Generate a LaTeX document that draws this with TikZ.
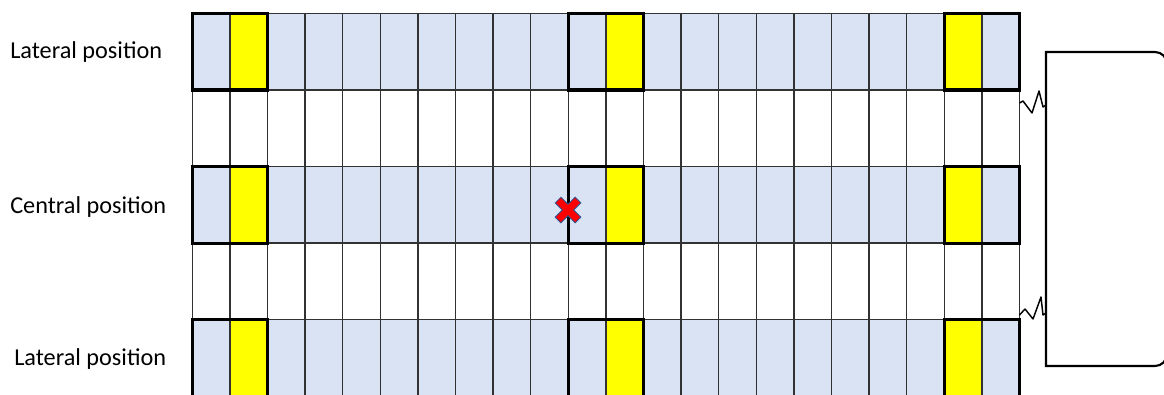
\documentclass[tikz,border=0pt]{standalone}
\usepackage{fontspec}
\setmainfont{Carlito}
\definecolor{cellblue}{RGB}{218,227,243}
\definecolor{cellyellow}{RGB}{255,255,0}
\definecolor{gridgray}{RGB}{50,50,50}
\definecolor{xblue}{RGB}{47,85,151}
\definecolor{xred}{RGB}{255,0,0}
\begin{document}
\begin{tikzpicture}[x=0.75pt,y=-0.75pt,
  gridline/.style={draw=gridgray,line width=1.05pt},
  thickbox/.style={draw=black,line width=2.4pt},
  label/.style={anchor=west,inner sep=0pt,font=\fontsize{18.2pt}{21pt}\selectfont},
  spring/.style={draw=black,line width=1.1pt,line join=round},
  holder/.style={draw=black,line width=1.6pt}]
\useasboundingbox (0,0) rectangle (1164,394);
\def\xo{192.3}\def\cw{37.6}\def\yo{13.3}\def\rh{76.6}
% blue rows
\foreach \r in {0,2,4}{
  \fill[cellblue] (\xo,\yo+\r*\rh) rectangle (\xo+22*\cw,\yo+\r*\rh+\rh);
  \foreach \c in {1,11,20}{
    \fill[cellyellow] (\xo+\c*\cw,\yo+\r*\rh) rectangle (\xo+\c*\cw+\cw,\yo+\r*\rh+\rh);
  }
}
% grid lines
\foreach \c in {0,...,22}{
  \draw[gridline] (\xo+\c*\cw,\yo) -- (\xo+\c*\cw,\yo+5*\rh);
}
\foreach \r in {0,...,5}{
  \draw[gridline] (\xo,\yo+\r*\rh) -- (\xo+22*\cw,\yo+\r*\rh);
}
% thick boxes
\foreach \r in {0,2,4}{
  \foreach \c in {0,10,20}{
    \draw[thickbox] (\xo+\c*\cw,\yo+\r*\rh) rectangle (\xo+\c*\cw+2*\cw,\yo+\r*\rh+\rh);
  }
}
% labels
\node[label] (lat1) at (10,52) {Lateral position};
\node[label] (cen) at (10,207) {Central position};
\node[label] (lat2) at (14,359) {Lateral position};
% red cross
\coordinate (xc) at (568,210);
\foreach \a in {45,135}{
  \draw[xblue,line width=6.8pt] ([shift={(\a:14.5)}]xc) -- ([shift={(\a+180:14.5)}]xc);
}
\foreach \a in {45,135}{
  \draw[xred,line width=5.2pt] ([shift={(\a:13.5)}]xc) -- ([shift={(\a+180:13.5)}]xc);
}
% holder box
\draw[holder] (1046,52) [rounded corners=9pt] -- (1167,52) -- (1167,366) [sharp corners] -- (1046,366) -- cycle;
% springs
\coordinate (g1) at (1019.5,103);
\coordinate (b1) at (1046,105);
\coordinate (g2) at (1019.5,315);
\coordinate (b2) at (1046,313);
\draw[spring] (g1) -- (1023,101) -- (1032,113) -- (1039,91) -- (1043,107) -- (b1);
\draw[spring] (g2) -- (1025,309) -- (1033,319) -- (1041,297) -- (1043,315) -- (b2);
\end{tikzpicture}
\end{document}
